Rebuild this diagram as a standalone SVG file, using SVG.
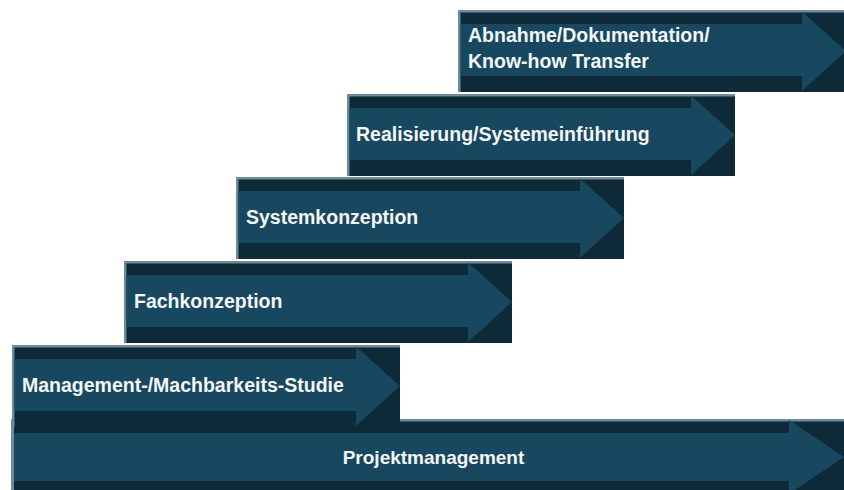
<svg xmlns="http://www.w3.org/2000/svg" width="844" height="490" viewBox="0 0 844 490">
<style>
.edge{fill:#6e8b98}
.box{fill:#0e2a38}
.arrow{fill:#17485f}
.lbl{font-family:"Liberation Sans",Arial,sans-serif;font-weight:bold;font-size:19.5px;fill:#f4f6f7}
</style>
<defs>
<g id="step">
<rect class="edge" x="0" y="0" width="388" height="82"/>
<rect class="box" x="2.5" y="2.5" width="385.5" height="79.5"/>
<polygon class="arrow" points="2.5,14 344,14 344,1.5 388,41 344,81 344,66 2.5,66"/>
</g>
</defs>
<rect width="844" height="490" fill="#ffffff"/>
<g id="projektmanagement">
<rect class="edge" x="11" y="419" width="840" height="71"/>
<rect class="box" x="14" y="421.5" width="840" height="70"/>
<polygon class="arrow" points="14,433 789,433 789,420 844,457 789,494 789,481 14,481"/>
<text class="lbl" x="433.5" y="463.5" text-anchor="middle" style="font-size:19px">Projektmanagement</text>
</g>
<g id="studie">
<use href="#step" x="12" y="345"/>
<text class="lbl" x="22" y="392">Management-/Machbarkeits-Studie</text>
</g>
<g id="fachkonzeption">
<use href="#step" x="124" y="261"/>
<text class="lbl" x="134" y="308">Fachkonzeption</text>
</g>
<g id="systemkonzeption">
<use href="#step" x="236" y="177"/>
<text class="lbl" x="246" y="224">Systemkonzeption</text>
</g>
<g id="realisierung">
<use href="#step" x="347" y="94"/>
<text class="lbl" x="356" y="140.5">Realisierung/Systemeinführung</text>
</g>
<g id="abnahme">
<use href="#step" x="458" y="10"/>
<text class="lbl" x="468" y="42">Abnahme/Dokumentation/</text>
<text class="lbl" x="468" y="68">Know-how Transfer</text>
</g>
<g id="connectors"></g>
</svg>
